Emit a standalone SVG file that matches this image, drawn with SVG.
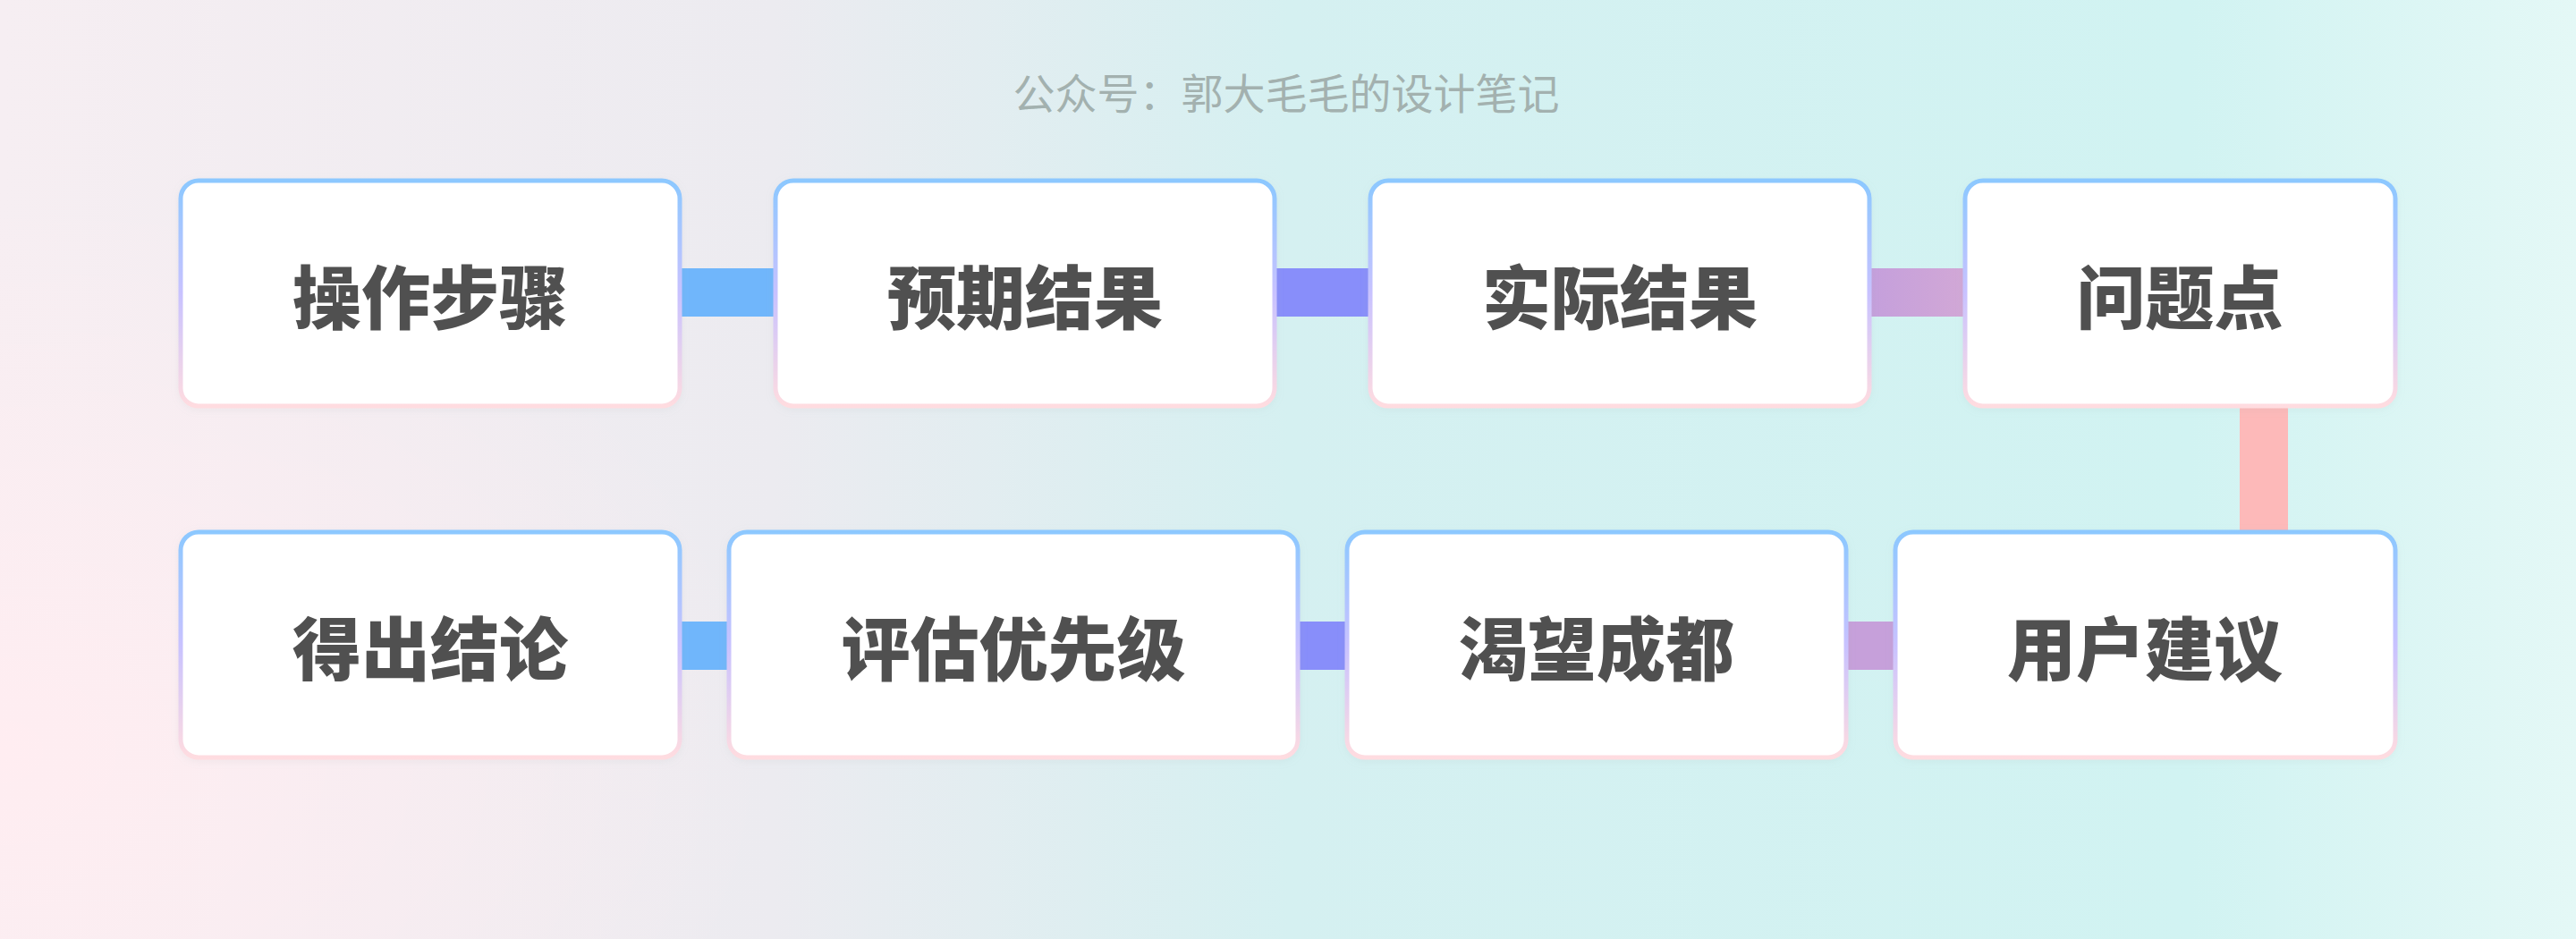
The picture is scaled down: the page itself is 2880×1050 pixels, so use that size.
<svg xmlns="http://www.w3.org/2000/svg" width="2880" height="1050" viewBox="0 0 2880 1050">
  <defs>
    <linearGradient id="bg" x1="0" y1="0" x2="1" y2="0">
      <stop offset="0" stop-color="#F6EEF2"/>
      <stop offset="0.3" stop-color="#ECEBF0"/>
      <stop offset="0.5" stop-color="#D5F0F1"/>
      <stop offset="0.85" stop-color="#D1F3F2"/>
      <stop offset="1" stop-color="#E4F8F6"/>
    </linearGradient>
    <radialGradient id="pinkGlow" cx="0" cy="0.8" r="0.6" gradientTransform="scale(0.5 1)">
      <stop offset="0" stop-color="#FFEDF1" stop-opacity="1"/>
      <stop offset="1" stop-color="#FFEDF1" stop-opacity="0"/>
    </radialGradient>
    <linearGradient id="border" x1="0" y1="0" x2="0" y2="1">
      <stop offset="0" stop-color="#8CC8FF"/>
      <stop offset="0.5" stop-color="#C8C2FF"/>
      <stop offset="1" stop-color="#FFDCE0"/>
    </linearGradient>
    <linearGradient id="c3" x1="0" y1="0" x2="1" y2="0">
      <stop offset="0" stop-color="#C49FDC"/>
      <stop offset="1" stop-color="#D2A8D6"/>
    </linearGradient>
    <filter id="sh" x="-5%" y="-10%" width="110%" height="120%">
      <feDropShadow dx="0" dy="2" stdDeviation="4" flood-color="#9AA" flood-opacity="0.12"/>
    </filter>
  </defs>
  <style>
    .box { fill: #FFFFFF; stroke: url(#border); stroke-width: 5; filter: url(#sh); }
    .lbl { font-family: "Noto Sans CJK SC", "Noto Sans", sans-serif; font-weight: 900; font-size: 77px; fill: #505050; text-anchor: middle; dominant-baseline: central; }
    .title { font-family: "Noto Sans CJK SC", "Noto Sans", sans-serif; font-weight: 400; font-size: 47px; fill: #A3B1AF; text-anchor: middle; dominant-baseline: central; }
  </style>
  <rect x="0" y="0" width="2880" height="1050" fill="url(#bg)"/>
  <rect x="0" y="0" width="2880" height="1050" fill="url(#pinkGlow)"/>
  <text class="title" x="1438" y="101">公众号：郭大毛毛的设计笔记</text>

  <g id="connectors">
    <rect x="758" y="300" width="111" height="54" fill="#70B6FB"/>
    <rect x="1423" y="300" width="111" height="54" fill="#888EFA"/>
    <rect x="2088" y="300" width="111" height="54" fill="url(#c3)"/>
    <rect x="2504" y="452" width="54" height="145" fill="#FDB9B9"/>
    <rect x="2062" y="695" width="59" height="54" fill="#C6A0DA"/>
    <rect x="1449" y="695" width="59" height="54" fill="#888EFA"/>
    <rect x="758" y="695" width="59" height="54" fill="#70B6FB"/>
  </g>

  <g id="node1"><rect class="box" x="202" y="202" width="558" height="252" rx="20"/><text class="lbl" x="481" y="328">操作步骤</text></g>
  <g id="node2"><rect class="box" x="867" y="202" width="558" height="252" rx="20"/><text class="lbl" x="1146" y="328">预期结果</text></g>
  <g id="node3"><rect class="box" x="1532" y="202" width="558" height="252" rx="20"/><text class="lbl" x="1811" y="328">实际结果</text></g>
  <g id="node4"><rect class="box" x="2197" y="202" width="481" height="252" rx="20"/><text class="lbl" x="2437" y="328">问题点</text></g>
  <g id="node5"><rect class="box" x="202" y="595" width="558" height="252" rx="20"/><text class="lbl" x="481" y="721">得出结论</text></g>
  <g id="node6"><rect class="box" x="815" y="595" width="636" height="252" rx="20"/><text class="lbl" x="1133" y="721">评估优先级</text></g>
  <g id="node7"><rect class="box" x="1506" y="595" width="558" height="252" rx="20"/><text class="lbl" x="1785" y="721">渴望成都</text></g>
  <g id="node8"><rect class="box" x="2119" y="595" width="559" height="252" rx="20"/><text class="lbl" x="2398" y="721">用户建议</text></g>
</svg>
